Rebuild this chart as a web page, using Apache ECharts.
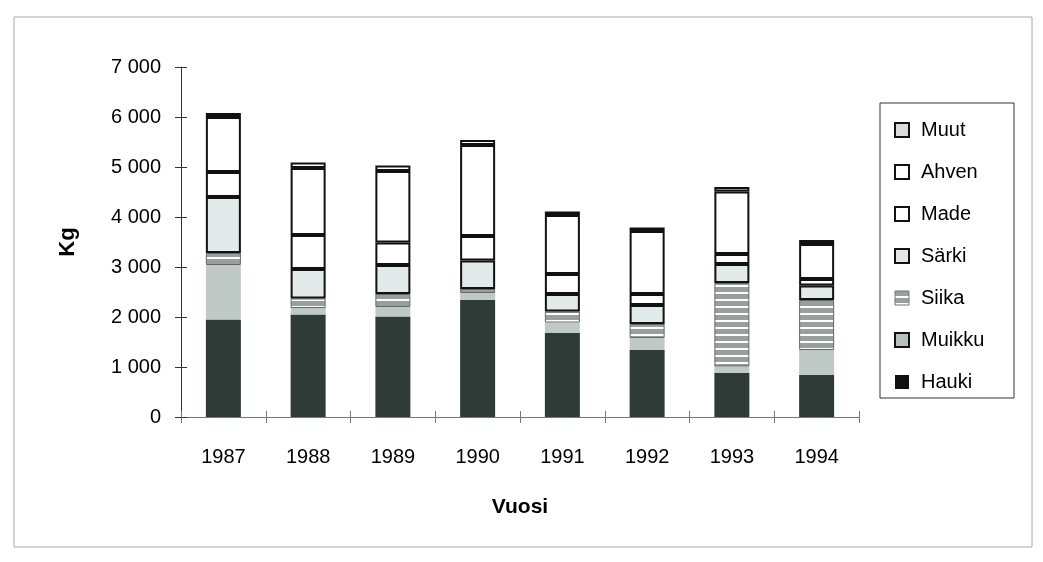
<!DOCTYPE html>
<html>
<head>
<meta charset="utf-8">
<script src="https://cdn.jsdelivr.net/npm/echarts@6/dist/echarts.min.js"></script>
<style>
  html, body { margin: 0; padding: 0; background: #fff; }
  #chart { width: 1043px; height: 562px; }
</style>
</head>
<body>
<div id="chart"></div>
<script>
// Annual catch per species, kg (bottom of stack first)
const years  = ['1987', '1988', '1989', '1990', '1991', '1992', '1993', '1994'];
const hauki  = [1950, 2050, 2010, 2340, 1680, 1340,  880,  840];
const muikku = [1090,  130,  190,  140,  210,  240,  130,  500];
const siika  = [ 240,  190,  260,   80,  220,  280, 1670, 1000];
const sarki  = [1120,  590,  580,  570,  350,  380,  380,  290];
const made   = [ 500,  680,  450,  490,  400,  220,  200,  130];
const ahven  = [1100, 1340, 1430, 1820, 1180, 1260, 1250,  700];
const muut   = [  80,  110,  110,  100,   70,   70,   90,   80];
const yTicks = [0, 1000, 2000, 3000, 4000, 5000, 6000, 7000];

const FONT = '"Liberation Sans", Arial, sans-serif';

// Horizontal stripe fill for the Siika segments
const stripe = document.createElement('canvas');
stripe.width = 4; stripe.height = 7;
const sctx = stripe.getContext('2d');
sctx.fillStyle = '#ffffff'; sctx.fillRect(0, 0, 4, 7);
sctx.fillStyle = '#97a09c'; sctx.fillRect(0, 0, 4, 5);
const stripePattern = { image: stripe, repeat: 'repeat' };

const chart = echarts.init(document.getElementById('chart'), null, { renderer: 'canvas' });

const gridBox = { left: 181, right: 184, top: 67, bottom: 145 };

function bar(name, data, style) {
  return {
    name, type: 'bar', stack: 'kg', data,
    barWidth: 35,
    xAxisIndex: 0, yAxisIndex: 0,
    itemStyle: style,
    emphasis: { disabled: true }
  };
}

const outlined = { borderColor: '#111', borderWidth: 2 };

chart.setOption({
  animation: false,
  backgroundColor: '#fff',
  graphic: [
    { type: 'rect', shape: { x: 14, y: 17, width: 1018, height: 530 },
      style: { fill: 'none', stroke: '#a8a8a8', lineWidth: 1 }, silent: true },
    { type: 'rect', shape: { x: 880, y: 103, width: 134, height: 295 },
      style: { fill: '#fff', stroke: '#333', lineWidth: 1 }, silent: true, z: 1 }
  ],
  grid: gridBox,
  legend: {
    left: 889, top: 115, orient: 'vertical', z: 5,
    itemWidth: 14, itemHeight: 14, itemGap: 22,
    icon: 'rect',
    textStyle: { fontFamily: FONT, fontSize: 20, color: '#000', lineHeight: 20, padding: [0, 0, 0, 7] },
    data: [
      { name: 'Muut',   itemStyle: { color: '#d8dcdb', borderColor: '#111', borderWidth: 2 } },
      { name: 'Ahven',  itemStyle: { color: '#fff', borderColor: '#111', borderWidth: 2 } },
      { name: 'Made',   itemStyle: { color: '#fff', borderColor: '#111', borderWidth: 2 } },
      { name: 'Särki',  itemStyle: { color: '#e2e8e7', borderColor: '#111', borderWidth: 2 } },
      { name: 'Siika',  itemStyle: { color: stripePattern, borderColor: '#777', borderWidth: 1 } },
      { name: 'Muikku', itemStyle: { color: '#b8c0bd', borderColor: '#111', borderWidth: 2 } },
      { name: 'Hauki',  itemStyle: { color: '#111', borderWidth: 0 } }
    ]
  },
  xAxis: [
    {
      type: 'category', data: years, position: 'bottom',
      axisLine: { lineStyle: { color: '#777', width: 1 } },
      axisTick: { show: true, length: 6, lineStyle: { color: '#777' } },
      axisLabel: { fontFamily: FONT, fontSize: 20, color: '#000', margin: 30 },
      name: 'Vuosi', nameLocation: 'middle', nameGap: 80,
      nameTextStyle: { fontFamily: FONT, fontSize: 21, fontWeight: 'bold', color: '#000' }
    },
    {
      type: 'category', data: years, position: 'bottom',
      axisLine: { show: false },
      axisTick: { show: true, inside: true, length: 6, lineStyle: { color: '#777' } },
      axisLabel: { show: false }
    }
  ],
  yAxis: [
    {
      type: 'value', min: 0, max: 7000, interval: 1000,
      splitLine: { show: false },
      axisLine: { show: true, lineStyle: { color: '#333', width: 1 } },
      axisTick: { show: true, length: 6, lineStyle: { color: '#333' } },
      axisLabel: {
        fontFamily: FONT, fontSize: 20, color: '#000', margin: 20,
        formatter: v => yTicks.includes(v) ? String(v).replace(/\B(?=(\d{3})+(?!\d))/g, ' ') : ''
      },
      name: 'Kg', nameLocation: 'middle', nameGap: 102,
      nameTextStyle: { fontFamily: FONT, fontSize: 22, fontWeight: 'bold', color: '#000' }
    },
    {
      type: 'value', min: 0, max: 7000, interval: 1000,
      splitLine: { show: false },
      axisLine: { show: false },
      axisTick: { show: true, inside: true, length: 6, lineStyle: { color: '#333' } },
      axisLabel: { show: false },
      position: 'left'
    }
  ],
  series: [
    bar('Hauki',  hauki,  { color: '#2f3b37' }),
    bar('Muikku', muikku, { color: '#bfcac6' }),
    bar('Siika',  siika,  { color: stripePattern, borderColor: '#666', borderWidth: 1 }),
    bar('Särki',  sarki,  Object.assign({ color: '#e3eaea' }, outlined)),
    bar('Made',   made,   Object.assign({ color: '#ffffff' }, outlined)),
    bar('Ahven',  ahven,  Object.assign({ color: '#ffffff' }, outlined)),
    bar('Muut',   muut,   Object.assign({ color: '#ffffff' }, outlined))
  ]
});
</script>
</body>
</html>
